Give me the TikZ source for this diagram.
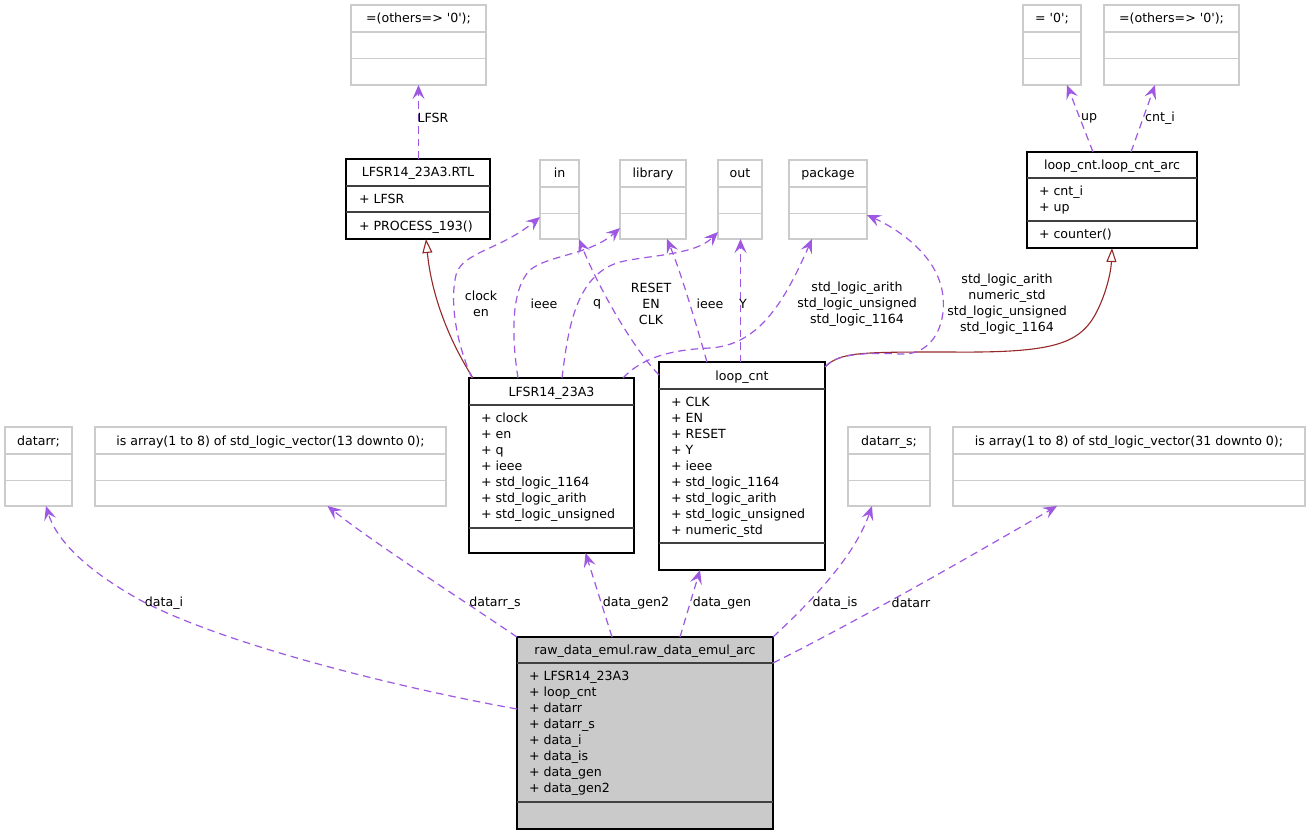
\documentclass[tikz,border=0pt]{standalone}
\usepackage{fontspec}
\setmainfont{DejaVu Sans}[Ligatures=TeXOff]
\usetikzlibrary{arrows.meta}
\definecolor{purp}{RGB}{158,88,226}
\definecolor{inhred}{RGB}{150,40,40}
\definecolor{gbord}{RGB}{204,204,204}
\definecolor{rawfill}{RGB}{202,202,202}
\tikzset{
  bbox/.style={draw=black, line width=1.3pt, inner sep=0pt, outer sep=0pt, fill=white},
  gbox/.style={draw=gbord, line width=1.4pt, inner sep=0pt, outer sep=0pt, fill=white},
  gsep/.style={draw=gbord, line width=1.4pt},
  bsep/.style={draw=black!75, line width=1.4pt},
  txt/.style={inner sep=0pt, outer sep=0pt, font=\fontsize{12.6}{16}\selectfont},
  lbl/.style={txt, align=center, fill=none},
  usage/.style={draw=purp, line width=1.2pt, dash pattern=on 7.5pt off 5pt,
    -{Stealth[length=14pt,width=12pt,inset=5.5pt]}},
  inherit/.style={draw=inhred, line width=1.1pt,
    -{Triangle[open, length=14pt, width=10pt, fill=white]}},
}
\newcommand\grayumlbox[6]{%
  \node[gbox, anchor=north west, minimum width={#4-#2}, minimum height={#5-#3}] (#1) at (#2,#3) {};
  \draw[gsep] (#2,{#3+27}) -- (#4,{#3+27});
  \draw[gsep] (#2,{#3+53.5}) -- (#4,{#3+53.5});
  \node[txt, anchor=base] (#1-t) at ({(#2+#4)/2},{#3+18}) {#6};
}
\newcommand\attrlines[4]{%
  \foreach \myitem [count=\i from 0] in {#4} {\node[txt, anchor=base west] (#1-\i) at (#2, {#3+4.5+16*\i}) {\myitem};}
}
\begin{document}
\begin{tikzpicture}[x=1pt,y=-1pt]
\useasboundingbox[fill=white] (0,0) rectangle (1307,837);

% ---------- gray boxes ----------
\grayumlbox{o1}{351}{5}{486}{85}{=(others=> '0');}
\grayumlbox{in}{540}{160}{579}{239}{in}
\grayumlbox{lib}{620}{160}{686}{239}{library}
\grayumlbox{out}{718}{160}{762}{239}{out}
\grayumlbox{pkg}{789}{160}{867}{239}{package}
\grayumlbox{z0}{1023}{5}{1081}{85}{= '0';}
\grayumlbox{o2}{1104}{5}{1239}{85}{=(others=> '0');}
\grayumlbox{datarr}{5}{427}{72}{506}{datarr;}
\grayumlbox{arr13}{95}{427}{446}{506}{is array(1 to 8) of std\_logic\_vector(13 downto 0);}
\grayumlbox{datarrs}{848}{427}{930}{506}{datarr\_s;}
\grayumlbox{arr31}{953}{427}{1305}{506}{is array(1 to 8) of std\_logic\_vector(31 downto 0);}

% ---------- black boxes ----------
% LFSR14_23A3.RTL
\node[bbox, anchor=north west, minimum width=144, minimum height=80] (rtl) at (346,159) {};
\draw[bsep] (346,186) -- (490,186);
\draw[bsep] (346,212) -- (490,212);
\node[txt, anchor=base] (rtl-t) at (418,177) {LFSR14\_23A3.RTL};
\attrlines{rtl-a}{359}{199}{+ LFSR}
\attrlines{rtl-m}{359}{226}{+ PROCESS\_193()}

% loop_cnt.loop_cnt_arc
\node[bbox, anchor=north west, minimum width=170, minimum height=96] (arc) at (1027,152) {};
\draw[bsep] (1027,178) -- (1197,178);
\draw[bsep] (1027,221) -- (1197,221);
\node[txt, anchor=base] (arc-t) at (1112,169.5) {loop\_cnt.loop\_cnt\_arc};
\attrlines{arc-a}{1039}{191.5}{+ cnt\_i, + up}
\attrlines{arc-m}{1039}{234.5}{+ counter()}

% LFSR14_23A3
\node[bbox, anchor=north west, minimum width=165, minimum height=175] (lfsr) at (469,378) {};
\draw[bsep] (469,405) -- (634,405);
\draw[bsep] (469,528) -- (634,528);
\node[txt, anchor=base] (lfsr-t) at (551.5,396) {LFSR14\_23A3};
\attrlines{lfsr-a}{481}{418}{+ clock, + en, + q, + ieee, + std\_logic\_1164, + std\_logic\_arith, + std\_logic\_unsigned}

% loop_cnt
\node[bbox, anchor=north west, minimum width=166, minimum height=208] (loop) at (659,362) {};
\draw[bsep] (659,389) -- (825,389);
\draw[bsep] (659,543) -- (825,543);
\node[txt, anchor=base] (loop-t) at (742,380) {loop\_cnt};
\attrlines{loop-a}{671}{402}{+ CLK, + EN, + RESET, + Y, + ieee, + std\_logic\_1164, + std\_logic\_arith, + std\_logic\_unsigned, + numeric\_std}

% raw_data_emul.raw_data_emul_arc
\node[bbox, fill=rawfill, anchor=north west, minimum width=256, minimum height=192] (raw) at (517,637) {};
\draw[bsep] (517,663) -- (773,663);
\draw[bsep] (517,802) -- (773,802);
\node[txt, anchor=base] (raw-t) at (645,654.5) {raw\_data\_emul.raw\_data\_emul\_arc};
\attrlines{raw-a}{529}{676}{+ LFSR14\_23A3, + loop\_cnt, + datarr, + datarr\_s, + data\_i, + data\_is, + data\_gen, + data\_gen2}

% ---------- inheritance ----------
\draw[inherit] ([xshift=4pt]lfsr.north west) .. controls (452,345) and (432,300) .. ([xshift=8pt]rtl.south);
\draw[inherit] ([yshift=-5pt]loop.north east) .. controls (840,352) and (860,352) .. (950,352)
  .. controls (1050,353) and (1078,345) .. (1095,315) .. controls (1106,295) and (1111,272) .. (arc.south);

% ---------- usage ----------
\draw[usage] ([xshift=0.5pt]rtl.north) -- ([xshift=0.5pt]rtl.north |- o1.south);
\draw[usage] ([xshift=3pt]lfsr.north west) .. controls (455,340) and (450,300) .. (456,275)
  .. controls (462,252) and (500,250) .. ([yshift=22pt]in.south west);
\draw[usage] ([xshift=49pt]lfsr.north west) .. controls (512,340) and (510,290) .. (530,270)
  .. controls (548,255) and (590,255) .. ([yshift=11pt]lib.south west);
\draw[usage] ([xshift=93pt]lfsr.north west) .. controls (568,330) and (575,275) .. (620,262)
  .. controls (650,255) and (695,255) .. ([yshift=7pt]out.south west);
\draw[usage] ([yshift=-13pt]loop.north west) .. controls (630,345) and (595,280) .. (in.south east);
\draw[usage] ([xshift=48pt]loop.north west) .. controls (695,320) and (680,270) .. ([xshift=47pt]lib.south west);
\draw[usage] ([xshift=0.5pt]out.south |- loop.north) -- ([xshift=0.5pt]out.south);
\draw[usage] ([xshift=-11pt]lfsr.north east) .. controls (640,360) and (665,350) .. (710,348)
  .. controls (760,345) and (785,300) .. ([xshift=23pt]pkg.south west);
\draw[usage] ([yshift=-5pt]loop.north east) .. controls (835,355) and (860,352) .. (900,354)
  .. controls (935,356) and (948,320) .. (942,290) .. controls (935,255) and (900,230) .. ([yshift=24pt]pkg.south east);
\draw[usage] ([xshift=66pt]arc.north west) -- ([xshift=44pt]z0.south west);
\draw[usage] ([xshift=104pt]arc.north west) -- ([xshift=51pt]o2.south west);
\draw[usage] ([yshift=-72pt]raw.north west) .. controls (400,688) and (225,645) .. (140,600)
  .. controls (95,575) and (58,545) .. ([xshift=7.5pt]datarr.south);
\draw[usage] (raw.north west) .. controls (440,585) and (370,540) .. ([xshift=57pt]arr13.south);
\draw[usage] ([xshift=95pt]raw.north west) -- ([xshift=34pt]lfsr.south);
\draw[usage] ([xshift=163pt]raw.north west) -- ([xshift=-42pt]loop.south);
\draw[usage] (raw.north east) .. controls (815,598) and (855,555) .. ([xshift=-17pt]datarrs.south);
\draw[usage] ([yshift=-26pt]raw.north east) .. controls (860,620) and (990,545) .. ([xshift=-72pt]arr31.south);

% ---------- labels ----------
\node[lbl] (l1) at (433,118) {LFSR};
\node[lbl] (l2) at (481,304) {clock\\en};
\node[lbl] (l3) at (544,304) {ieee};
\node[lbl] (l4) at (597,304) {q};
\node[lbl] (l5) at (651,304) {RESET\\EN\\CLK};
\node[lbl] (l6) at (710,304) {ieee};
\node[lbl] (l7) at (743,304) {Y};
\node[lbl] (l8) at (857,304) {std\_logic\_arith\\std\_logic\_unsigned\\std\_logic\_1164};
\node[lbl] (l9) at (1007,304) {std\_logic\_arith\\numeric\_std\\std\_logic\_unsigned\\std\_logic\_1164};
\node[lbl] (l10) at (1089,118) {up};
\node[lbl] (l11) at (1160,118) {cnt\_i};
\node[lbl] (l12) at (164,603) {data\_i};
\node[lbl] (l13) at (495,603) {datarr\_s};
\node[lbl] (l14) at (636,603) {data\_gen2};
\node[lbl] (l15) at (722,603) {data\_gen};
\node[lbl] (l16) at (835,603) {data\_is};
\node[lbl] (l17) at (911,603) {datarr};
\end{tikzpicture}
\end{document}
